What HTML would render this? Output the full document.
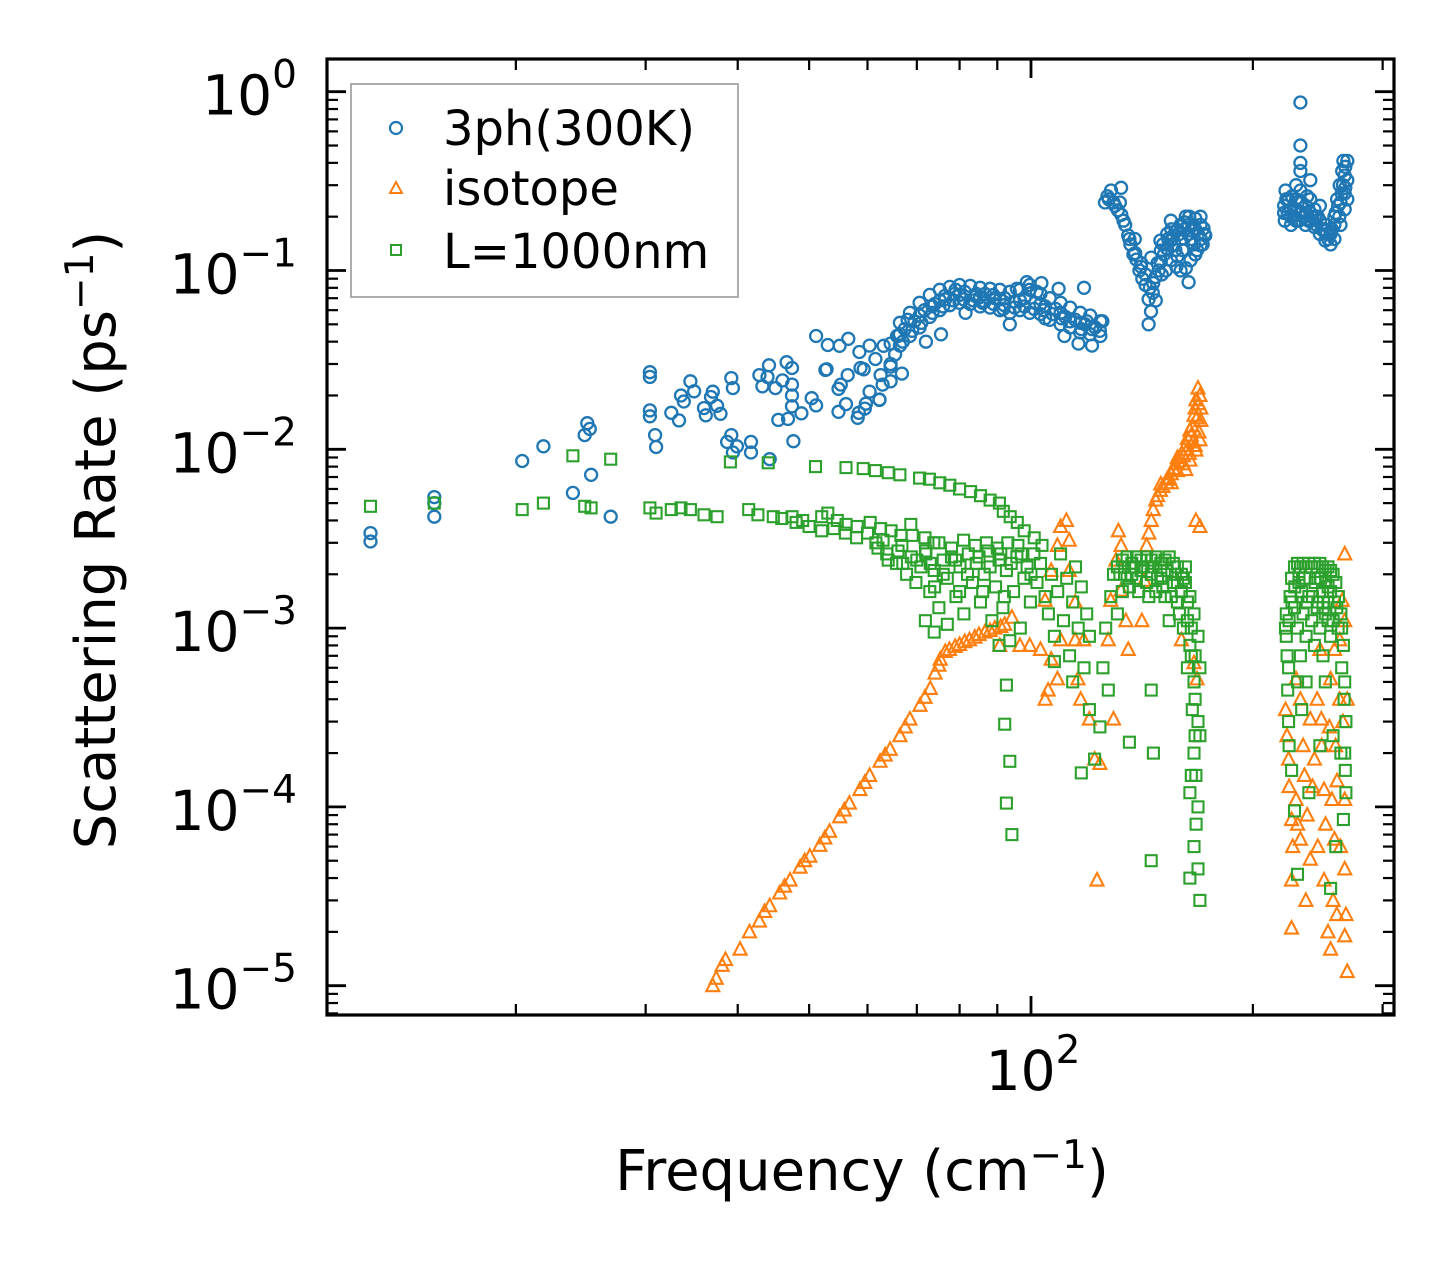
<!DOCTYPE html>
<html><head><meta charset="utf-8"><title>Scattering Rate</title>
<style>html,body{margin:0;padding:0;background:#fff}svg{display:block}text{font-family:"DejaVu Sans","Liberation Sans",sans-serif;fill:#000}</style>
</head><body>
<svg id="chart" width="1455" height="1265" viewBox="0 0 1455 1265" xmlns="http://www.w3.org/2000/svg">
<rect width="1455" height="1265" fill="#fff"/>
<g id="marks"></g>
<g id="axes"></g>
<g id="legend">
<rect x="351" y="84" width="387" height="213" fill="#fff" fill-opacity="0.8" stroke="#999" stroke-width="1.6"/>
<g><circle cx="396" cy="128" r="6" fill="none" stroke="#1f77b4" stroke-width="2.2"/><text x="443" y="145" font-size="48">3ph(300K)</text></g>
<g><polygon points="396,182 402,193 390,193" fill="none" stroke="#ff7f0e" stroke-width="2"/><text x="443" y="205" font-size="48">isotope</text></g>
<g><rect x="391" y="245" width="10" height="10" fill="none" stroke="#2ca02c" stroke-width="2"/><text x="443" y="268" font-size="48">L=1000nm</text></g>
</g>
<text x="862" y="1190" font-size="56" text-anchor="middle">Frequency (cm<tspan dy="-22" font-size="39">−1</tspan><tspan dy="22">)</tspan></text>
<text transform="translate(115,540) rotate(-90)" font-size="56" text-anchor="middle">Scattering Rate (ps<tspan dy="-22" font-size="39">−1</tspan><tspan dy="22">)</tspan></text>
</svg>
<script>
const threePhData=[[12.7,3.4e-3],[12.7,3.05e-3],[15.5,5.4e-3],[15.5,5.0e-3],[15.5,4.2e-3],[20.4,8.6e-3],[21.8,1.04e-2],[23.9,5.7e-3],[24.8,1.2e-2],[25.0,1.4e-2],[25.2,1.3e-2],[25.3,7.2e-3],[26.9,4.2e-3],
[30.4,2.7e-2],[30.4,1.65e-2],[30.9,1.2e-2],[32.5,1.6e-2],[33.5,2.0e-2],[34.5,2.4e-2],[36,1.7e-2],[37,2.1e-2],[37.5,1.75e-2],[38.7,1.1e-2],[39.2,1.2e-2],[39.2,2.5e-2],
[30.4,0.0254],[33.8,0.0185],[34.9,0.0211],[36.8,0.0196],[39.4,0.022],[36.2,0.0155],[37.9,0.0158],[33.3,0.0145],[30.4,0.0153],[31,0.0103],[39.4,0.0096],[39.9,0.0104],[41.7,0.011],[41.7,0.0096],[44.2,0.0088],[42.8,0.026],[44.1,0.0295],[43.9,0.0254],[43.2,0.0225],[45,0.022],[46,0.0243],[46.6,0.0307],[47.4,0.0285],[47.4,0.023],[47.4,0.02],[47.4,0.0174],[48.8,0.0159],[45.4,0.0146],[46.8,0.0148],[47.6,0.0111],[50.4,0.0193],[51.1,0.0176],[51.1,0.043],[53,0.0383],[52.6,0.0278],[55,0.0379],[56.5,0.0415],[58.5,0.035],[54.8,0.0218],[56.1,0.0179],[54.8,0.0162],[58.2,0.015],[59.5,0.0169],[58.7,0.0285],[62.3,0.0189],[63.1,0.0379],[64.5,0.03],[65.8,0.043],
[62.9,0.023],[66.8,0.0265],[66,0.043],[62.3,0.019],[59.7,0.018],[58.4,0.016],[59.3,0.028],[55.2,0.023],[52.8,0.028],[56.4,0.026],[60.4,0.021],[62.5,0.026],[64.5,0.024],[61.5,0.032],[60.4,0.038],
[64.5,0.039],[64.5,0.029],[66.4,0.051],[66.4,0.038],[68.5,0.058],[68.5,0.043],[70.6,0.066],[70.6,0.048],[72.9,0.073],[72.9,0.055],[75.2,0.078],[75.2,0.060],[77.6,0.081],[77.6,0.064],[80,0.083],[80,0.066],[82.7,0.082],[82.7,0.065],[85.3,0.080],[85.3,0.063],[88,0.079],[88,0.062],[90.7,0.078],[90.7,0.060],[93.6,0.076],[93.6,0.058],[96.6,0.078],[96.6,0.060],[99.6,0.078],[99.6,0.058],[103,0.074],[103,0.057],[106,0.070],[106,0.053],[109.7,0.066],[109.7,0.050],[113,0.062],[113,0.048],[116.6,0.058],[116.6,0.045],[120.3,0.056],[120.3,0.044],[124.2,0.052],[124.2,0.043],
[66.4,0.044],[70.6,0.056],[75.2,0.068],[80,0.073],[85.3,0.071],[90.7,0.069],[96.6,0.068],[103,0.065],[109.7,0.058],[116.6,0.051],
[65.4,0.034],[67.4,0.047],[69.5,0.052],[71.7,0.060],[74,0.065],[76.4,0.072],[78.8,0.074],[81.3,0.076],[84,0.072],[86.6,0.074],[89.3,0.070],[92.1,0.070],[95,0.067],[98,0.070],[101.3,0.066],[104.5,0.063],[108,0.061],[111.3,0.055],[114.8,0.053],[118.4,0.050],[122.2,0.048],
[67,0.040],[69,0.046],[71,0.051],[73.5,0.058],[76,0.063],[78.5,0.068],[81,0.069],[83.5,0.068],[86,0.066],[89,0.065],[92,0.064],[95,0.062],[98,0.063],[101,0.061],[104,0.060],[107,0.057],[110,0.054],[113,0.052],[117,0.047],[121,0.047],
[68,0.053],[72,0.040],[75.5,0.044],[73.5,0.063],[79,0.078],[81.5,0.058],[84.3,0.074],[88.9,0.073],[93.6,0.050],[95.7,0.079],[98.7,0.086],[101.8,0.076],[104.5,0.054],[109,0.079],[111,0.043],[116,0.039],[118,0.080],[121,0.038],[125,0.052],[119,0.052],[91.7,0.061],[86.5,0.067],[76.5,0.069],[124,0.046],[103.3,0.085],[99.6,0.083],
[126,0.24],[127,0.26],[128.4,0.28],[129.4,0.24],[131.2,0.217],[132.5,0.29],[132.6,0.205],[134.2,0.18],[135.5,0.157],[136.4,0.14],[137.7,0.123],[139,0.115],[140.3,0.10],[141.6,0.090],[143,0.083],[144.4,0.069],[144.4,0.050],[145.5,0.059],[146.3,0.075],[147.6,0.092],[149,0.10],[150,0.112],[151.5,0.123],[152.9,0.133],[154.8,0.147],[156,0.157],[157.7,0.167],[159.6,0.18],[161.5,0.186],[163.6,0.18],[165.4,0.167],[167.1,0.17],[169.8,0.18],[171.4,0.172],[172.4,0.157],[169.8,0.138],[167.1,0.123],[164.6,0.114],[162.2,0.103],[159.6,0.10],[154.8,0.114],[150,0.129],[145.6,0.118],[141.1,0.11],[157,0.13],[152.4,0.10],[163.6,0.086],[147.7,0.068],[162.2,0.20],[167.1,0.195],[154.8,0.19],[149.8,0.147],[169.8,0.20],[138.3,0.15],[132,0.24],
[160,0.15],[165,0.15],[170,0.15],[155,0.17],[168,0.13],[158,0.12],[172,0.16],[164,0.2],[153,0.16],
[127.5,0.25],[130,0.23],[133.5,0.19],[136,0.15],[138.5,0.125],[141,0.105],[143,0.095],[145,0.08],[146.5,0.085],[148.5,0.11],[151,0.14],[153.5,0.15],[156.5,0.14],[159,0.16],[161.5,0.17],[163.5,0.16],[166,0.18],[168.5,0.16],[171,0.14],[160.5,0.13],[166.5,0.14],[150.5,0.095],[157.5,0.105],
[232,0.87],[232,0.5],[232,0.40],[232,0.36],[221.5,0.28],[223.6,0.25],[225.3,0.22],[225.3,0.18],[228.9,0.25],[228.9,0.19],[232,0.28],[232,0.21],[235.8,0.23],[235.8,0.18],[239.3,0.25],[239.3,0.21],[242.4,0.22],[242.4,0.175],[246.6,0.19],[246.6,0.16],[250.8,0.18],[250.8,0.147],[255,0.165],[255,0.14],[258,0.18],[258,0.2],[260.2,0.25],[262.3,0.30],[264.4,0.36],[265.4,0.41],[266.5,0.34],[266.5,0.27],[266.5,0.22],[268.6,0.32],[268.6,0.25],[268.6,0.41],[220.5,0.23],[220.5,0.21],[228.9,0.30],[239.3,0.32],[246.6,0.23],
[225,0.2],[230,0.24],[235,0.2],[240,0.19],[245,0.2],[250,0.17],[255,0.16],[262,0.2],[264,0.27],[222,0.25],[243,0.2],[237,0.26],
[221,0.19],[223,0.21],[226,0.26],[227,0.2],[229,0.22],[231,0.19],[233,0.24],[234,0.2],[236,0.21],[238,0.19],[241,0.2],[244,0.18],[248,0.17],[252,0.16],[256,0.17],[259,0.21],[261,0.23],[263,0.24],[265,0.3],[267,0.38],[267,0.29],[263,0.18],[258,0.15],[253,0.15]];

const isotopeData=[[37,1e-5],[37.4,1.1e-5],[38.1,1.3e-5],[40.3,1.6e-5],[41.5,2.0e-5],[42.8,2.3e-5],[44.2,2.8e-5],[45.6,3.3e-5],[47.1,3.9e-5],[48.6,4.6e-5],[50.1,5.3e-5],[51.7,6.1e-5],[53.3,7.3e-5],[55,8.8e-5],[56.7,1.05e-4],[58.6,1.25e-4],[60.4,1.5e-4],[62.4,1.8e-4],[64.4,2.1e-4],[66.4,2.5e-4],[68.5,3.1e-4],[70.7,3.7e-4],[73,4.6e-4],[74.1,5.6e-4],[75.3,6.7e-4],[76.5,7.4e-4],[78.9,7.9e-4],[81.3,8.4e-4],[83.9,8.9e-4],[86.6,9.5e-4],[89.3,1.0e-3],[92.1,1.05e-3],[94.2,1.15e-3],
[38.5,1.4e-5],[43.5,2.6e-5],[46.3,3.6e-5],[49.3,5.0e-5],[52.5,6.7e-5],[55.8,9.6e-5],[59.5,1.37e-4],[63.4,1.95e-4],[67.5,2.8e-4],[71.8,4.1e-4],[75,6.2e-4],[77.5,7.6e-4],[80,8.1e-4],[82.5,8.6e-4],[85,9.2e-4],[88,9.7e-4],[91,1.02e-3],
[90.7,8e-4],[96.6,8e-4],[99.6,8e-4],[103,7.6e-4],
[104.5,1.43e-3],[106.5,2.1e-3],[108.6,2.9e-3],[109.7,3.7e-3],[111.7,4e-3],[112.7,3.1e-3],[112.7,2.1e-3],[114.8,1.4e-3],[106.5,6.7e-4],[105.5,4.5e-4],[104.5,4e-4],[108.6,5.2e-4],[109.7,8.6e-4],[114.8,8.6e-4],[115.8,5.2e-4],[116.8,4e-4],[117.9,8.6e-4],
[120,3.1e-4],[122,1.85e-4],[122.9,3.9e-5],[124,1.75e-4],
[127.3,8.6e-4],[128.3,1.43e-3],[130.4,2.4e-3],[131.4,3.5e-3],[132.5,2.9e-3],[132.5,1.63e-3],[134.5,1.1e-3],[135.5,7.6e-4],[129.4,3.1e-4],
[141.4,1.1e-3],[142.5,1.85e-3],[143.5,2.9e-3],[145.6,4e-3],[147.7,5.2e-3],[149.8,5.9e-3],[152.9,6.5e-3],[155,7.3e-3],[157,8.3e-3],[160.2,9.5e-3],[162.2,1.05e-2],[164.3,1.28e-2],[166.4,1.55e-2],[167.4,1.89e-2],[168.5,2.2e-2],[169.5,2e-2],[162.2,7.7e-3],[164.3,8.7e-3],[167.4,9.9e-3],[169.5,1.13e-2],[167.4,4e-3],[169.5,3.7e-3],[166.4,6.4e-4],[160,8.6e-4],[168,5.2e-4],[150,6.4e-3],[158,9e-3],[165,1.2e-2],[168,1.5e-2],[163,1.0e-2],[170,1.7e-2],[155,6.5e-3],[166,1.1e-2],
[144.5,3.4e-3],[146.5,4.6e-3],[148.5,5.5e-3],[151,6.2e-3],[154,6.9e-3],[156,7.8e-3],[158.5,8.6e-3],[161,9.2e-3],[163,1.15e-2],[165.5,1.35e-2],[167,1.7e-2],[168.8,1.8e-2],[170,1.45e-2],[169,1.25e-2],[167,1.05e-2],[164,9.5e-3],[161,8.3e-3],[158,7.6e-3],[153,6.8e-3],
[221.5,3.5e-4],[223.6,1.85e-4],[225.7,8.5e-5],[225.7,3.9e-5],[225.7,2.1e-5],[228.9,1.1e-4],[232,6.6e-5],[236,3e-5],[239.3,5.1e-5],[242.4,1.85e-4],[244.5,4e-4],[246.6,7.6e-4],[247.7,3.1e-4],[249.8,1.25e-4],[249.8,3.9e-5],[252.9,2e-5],[255,1.6e-5],[257,3e-5],[258.1,6.6e-5],[260.2,1.4e-4],[262.3,4e-4],[262.3,8.6e-4],[264.4,1.43e-3],[266.5,2.6e-3],[266.5,1.1e-3],[268.6,4e-4],[266.5,1.1e-4],[266.5,4.5e-5],[266.5,1.9e-5],[268.6,1.2e-5],[239.3,3.1e-4],[232,4e-4],[228.9,5.2e-4],[255,5.2e-4],[258.1,7.6e-4],[248,2.2e-4],[235,1.5e-4],[260,2.5e-5],
[222.5,2.5e-4],[224,1.3e-4],[226.5,6e-5],[230,8e-5],[234,2.2e-4],[237,9e-5],[241,1.3e-4],[245,6e-5],[251,8e-5],[254,2.8e-4],[256,1.1e-4],[259,2.2e-4],[263,6e-5],[265,3e-4],[267.5,2.5e-5]];

const boundaryData=[[12.7,4.8e-3],[15.5,5.0e-3],[20.4,4.6e-3],[21.8,5.0e-3],[23.9,9.2e-3],[24.8,4.8e-3],[25.3,4.7e-3],[26.9,8.8e-3],[30.4,4.7e-3],[31,4.4e-3],[32.5,4.6e-3],[33.5,4.7e-3],[34.5,4.6e-3],[36,4.3e-3],[37.5,4.2e-3],[39.1,8.5e-3],[41.4,4.6e-3],[42.6,4.3e-3],[44,8.4e-3],[44.7,4.2e-3],[45.9,4.1e-3],[47.4,4.2e-3],[49,4.0e-3],[51,8.0e-3],[52,4.2e-3],[53,4.4e-3],[54.6,4.0e-3],[56.1,7.9e-3],[56.1,3.8e-3],[58.1,3.7e-3],[59.2,7.8e-3],[60.5,3.9e-3],[61.5,7.6e-3],[62.5,3.6e-3],[64,7.4e-3],[64.6,3.5e-3],[66.4,7.2e-3],[66.6,3.3e-3],[68.7,3.8e-3],[70.6,6.9e-3],[71.8,3.2e-3],[72.8,6.8e-3],[73.8,3.0e-3],[75.2,6.5e-3],[77.6,6.3e-3],[80,6.0e-3],[82.8,5.8e-3],[85.4,5.5e-3],[88,5.2e-3],[90.6,5.0e-3],[91.7,4.5e-3],[93.7,4.2e-3],[95.8,3.9e-3],[97.9,3.5e-3],[101,3.2e-3],[103.5,2.9e-3],
[61.6,3.0e-3],[63.7,2.6e-3],[65.7,2.3e-3],[66.8,2.9e-3],[67.8,2.0e-3],[68.8,2.5e-3],[69.8,1.8e-3],[70.9,2.2e-3],[71.9,2.7e-3],[72.9,1.6e-3],[73.9,2.1e-3],[75,1.3e-3],[76,2.4e-3],[77,1.9e-3],[78,2.8e-3],[79.1,1.5e-3],[80.1,2.2e-3],[81.1,1.2e-3],[82.2,2.6e-3],[83.3,1.8e-3],[84.3,2.3e-3],[85.4,1.4e-3],[86.4,2.0e-3],[87.4,2.7e-3],[88.5,1.1e-3],[89.5,1.7e-3],[90.5,2.4e-3],[91.6,1.3e-3],[92.6,2.1e-3],[93.6,8.5e-4],[94.7,1.6e-3],[95.7,2.5e-3],[96.7,1.0e-3],[97.8,1.9e-3],[98.8,2.2e-3],[99.8,1.4e-3],[100.9,2.6e-3],[101.9,1.8e-3],[103,2.3e-3],[73.9,9.5e-4],[77,1.05e-3],[71.9,1.1e-3],[90.5,8e-4],[92.6,4.8e-4],[92.1,2.9e-4],[93.6,1.8e-4],[92.6,1.05e-4],[94.2,7e-5],
[48,3.9e-3],[50,3.7e-3],[52,3.5e-3],[54,3.6e-3],[56,3.4e-3],[58,3.2e-3],[60,3.4e-3],[63,3.1e-3],[66,2.7e-3],[69,3.3e-3],[72,2.6e-3],[75,3.0e-3],[78,2.5e-3],[81,3.1e-3],[84,2.9e-3],[87,3.0e-3],[90,2.8e-3],[93,3.0e-3],[96,2.9e-3],
[62,2.8e-3],[64,2.4e-3],[67,2.3e-3],[70,2.4e-3],[73,2.3e-3],[76,2.0e-3],[79,2.4e-3],[82,2.0e-3],[85,2.5e-3],[88,2.2e-3],[91,2.6e-3],[94,2.3e-3],[97,2.6e-3],[100,2.0e-3],[74,1.7e-3],[80,1.6e-3],[86,1.6e-3],[92,1.5e-3],
[104.5,1.5e-3],[105.6,1.2e-3],[106.6,2.0e-3],[107.6,9e-4],[108.7,1.6e-3],[109.7,2.6e-3],[110.7,1.1e-3],[111.8,1.9e-3],[112.8,7e-4],[113.9,1.4e-3],[114.9,2.2e-3],[115.9,1.0e-3],[117,1.7e-3],[118,6e-4],[119,1.2e-3],[120,9e-4],[107.6,6.5e-4],[113.9,5e-4],[117,1.55e-4],[120,3.5e-4],[122,1.85e-4],[124,2.8e-4],[125.2,6e-4],[126.3,1.0e-3],[128.3,1.5e-3],[129.4,2.0e-3],[127.3,4.5e-4],
[131,2.2e-3],[133,2.4e-3],[135,2.5e-3],[137,2.3e-3],[139,2.5e-3],[141,2.4e-3],[143.5,2.5e-3],[145.6,2.4e-3],[147.7,2.5e-3],[150,2.3e-3],[152,2.4e-3],[154,2.5e-3],[156,2.3e-3],[158,2.2e-3],[160,2.0e-3],[162,1.8e-3],[164.3,1.5e-3],[166.4,1.2e-3],[168.5,9e-4],[169.5,6e-4],[164.3,8e-4],[166.4,5e-4],[168.5,3e-4],[166.4,2e-4],[164.3,1.2e-4],[168.5,1.0e-4],[166.4,6e-5],[168.5,4.5e-5],[169.5,3e-5],[164.3,4e-5],[167.4,1.5e-4],[169.5,2.5e-4],[161,1e-3],[158,1.4e-3],[156,1.8e-3],[154,1.1e-3],[152,1.5e-3],[150,1.9e-3],[147.7,1.6e-3],[145.6,2.0e-3],[143.5,1.8e-3],[141,2.1e-3],[139,1.9e-3],[137,2.0e-3],[135,1.9e-3],[133,1.6e-3],[131,1.2e-3],[136,2.3e-4],[145.6,4.5e-4],[146.6,2.0e-4],[145.6,5e-5],
[160,1.6e-3],[163,1.1e-3],[165,7e-4],[167,4e-4],[162,2.2e-3],[158,1.8e-3],[150,2.1e-3],[144,2.2e-3],
[132,2.0e-3],[134,2.2e-3],[136,1.7e-3],[138,2.2e-3],[140,1.6e-3],[142,2.2e-3],[144.5,1.5e-3],[146.5,2.2e-3],[148.5,1.9e-3],[151,1.7e-3],[153,2.1e-3],[155,1.5e-3],[157,2.0e-3],[159,1.2e-3],[161,1.9e-3],[163,1.4e-3],[165,1.0e-3],[167,7e-4],[163,6e-4],[165.5,3.5e-4],[167,2.5e-4],[165,1.5e-4],[167.5,8e-5],
[221.5,1e-3],[222.6,7e-4],[223.6,3e-4],[224.7,1.5e-3],[225.7,1.9e-3],[227.8,2.2e-3],[229.9,2.3e-3],[232,2.2e-3],[234,2.3e-3],[236.2,2.2e-3],[238.3,2.3e-3],[240.4,2.2e-3],[242.4,2.3e-3],[244.5,2.2e-3],[246.6,2.3e-3],[248.7,2.2e-3],[250.8,2.1e-3],[252.9,2.2e-3],[255,2.1e-3],[257,2.0e-3],[259.2,1.8e-3],[261.3,1.5e-3],[263.3,1.2e-3],[265.4,8e-4],[266.5,5e-4],[267.5,3e-4],[266.5,2e-4],[267.5,1.2e-4],[265.4,8.5e-5],[227.8,1.3e-3],[229.9,1e-3],[232,7e-4],[234,1.2e-3],[236.2,9e-4],[238.3,1.5e-3],[240.4,1.1e-3],[242.4,8e-4],[244.5,1.3e-3],[246.6,1e-3],[248.7,1.6e-3],[250.8,1.2e-3],[252.9,1.4e-3],[255,9e-4],[257,1.1e-3],[225.7,1.6e-4],[227.8,9.5e-5],[229.9,4.2e-5],[238.3,1.2e-4],[250.8,5e-4],[255,3.5e-5],[259.2,6e-5],[263.3,2e-4],[223.6,6e-4],[236.2,5e-4],[246.6,2.2e-4],[257,2.5e-4],
[222,1.2e-3],[231,1.8e-3],[245,1.9e-3],[253,1.7e-3],[260,1.3e-3],[264,1e-3],[230,5e-4],[249,7e-4],
[222,9e-4],[224,1.1e-3],[226,1.4e-3],[228,1.7e-3],[231,2.0e-3],[233,1.6e-3],[235,1.9e-3],[237,1.4e-3],[239,1.9e-3],[241,1.5e-3],[243,1.8e-3],[245,1.4e-3],[247,1.9e-3],[249,1.3e-3],[251,1.8e-3],[253,1.1e-3],[255,1.6e-3],[258,1.4e-3],[261,1.0e-3],[264,6e-4],[266,4e-4],[267,1.6e-4],[223,4.5e-4],[224,2.2e-4],[233,3.5e-4]];

const yMajorExponents=[0,-1,-2,-3,-4,-5];
const xMajorValues=[100];
const xMinorValues=[20,30,40,50,60,70,80,90,200,300];

const NS='http://www.w3.org/2000/svg';
const L=327,R=1394,T=59,B=1015;
function X(f){return 1031+737*(Math.log10(f)-2);}
function Y(r){return 91.7-178.8*Math.log10(r);}
function mk(tag,attrs,parent){const e=document.createElementNS(NS,tag);for(const k in attrs)e.setAttribute(k,attrs[k]);parent.appendChild(e);return e;}
const marks=document.getElementById('marks');
const axes=document.getElementById('axes');

const gB=mk('g',{fill:'none',stroke:'#1f77b4','stroke-width':2.3},marks);


threePhData.forEach(p=>{const c=mk('circle',{cx:X(p[0]).toFixed(1),cy:Y(p[1]).toFixed(1),r:6},gB);

});

const gO=mk('g',{fill:'none',stroke:'#ff7f0e','stroke-width':2.1},marks);


isotopeData.forEach(p=>{const x=X(p[0]),y=Y(p[1]);const t=mk('polygon',{points:`${x},${y-7} ${x+6.5},${y+5.5} ${x-6.5},${y+5.5}`},gO);

});

const gG=mk('g',{fill:'none',stroke:'#2ca02c','stroke-width':2.1},marks);


boundaryData.forEach(p=>{const s=mk('rect',{x:(X(p[0])-5.5).toFixed(1),y:(Y(p[1])-5.5).toFixed(1),width:11,height:11},gG);

});

const tg=mk('g',{stroke:'#000','stroke-width':2.2},axes);


yMajorExponents.forEach(e=>{const y=Y(Math.pow(10,e));
mk('line',{x1:L,x2:L+19,y1:y,y2:y,'stroke-width':2.8},tg);mk('line',{x1:R,x2:R-19,y1:y,y2:y,'stroke-width':2.8},tg);
const t=mk('text',{x:297,y:y+23,'font-size':55,'text-anchor':'end',stroke:'none'},axes);


t.innerHTML='10<tspan dy="-27" font-size="39">'+(e===0?'0':'−'+(-e))+'</tspan>';
for(let m=2;m<=9;m++){const yy=Y(m*Math.pow(10,e-1));if(yy>B-1||yy<T+1)continue;
mk('line',{x1:L,x2:L+11,y1:yy,y2:yy},tg);mk('line',{x1:R,x2:R-11,y1:yy,y2:yy},tg);}
});
for(let m=2;m<=9;m++){const yy=Y(m);if(yy>T+1)mk('line',{x1:L,x2:L+11,y1:yy,y2:yy},tg);}
xMajorValues.forEach(v=>{const x=X(v);mk('line',{x1:x,x2:x,y1:B,y2:B-19,'stroke-width':2.8},tg);mk('line',{x1:x,x2:x,y1:T,y2:T+19,'stroke-width':2.8},tg);
const t=mk('text',{x:x+2,y:1090,'font-size':55,'text-anchor':'middle',stroke:'none'},axes);


t.innerHTML='10<tspan dy="-27" font-size="39">2</tspan>';});
xMinorValues.forEach(v=>{let x=X(v);if(x>R-2)x=R-3;mk('line',{x1:x,x2:x,y1:B,y2:B-11},tg);mk('line',{x1:x,x2:x,y1:T,y2:T+11},tg);});

const frame=mk('rect',{x:L,y:T,width:R-L,height:B-T,fill:'none',stroke:'#000','stroke-width':3.2},axes);


</script>
</body></html>
